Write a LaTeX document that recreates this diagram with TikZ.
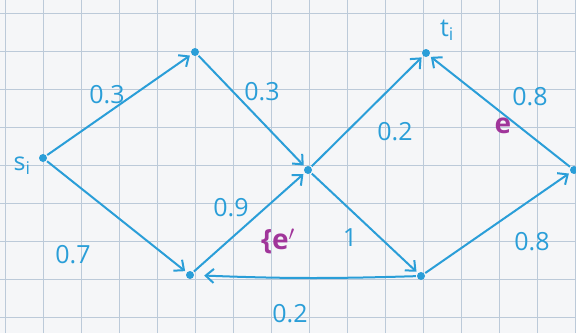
\documentclass[tikz,border=0pt]{standalone}
\usepackage{fontspec}
\setmainfont{Open Sans}
\usetikzlibrary{arrows.meta}
\definecolor{pen}{HTML}{2A9ED8}
\definecolor{ink}{HTML}{A0359A}
\definecolor{paper}{HTML}{F5F6F8}
\definecolor{gridc}{HTML}{BCCAD9}
\begin{document}
\begin{tikzpicture}[x=1pt,y=1pt,
  dot/.style={circle,fill=pen,inner sep=0pt,minimum size=8pt},
  edge/.style={draw=pen,line width=2pt,-{Straight Barb[length=8pt,width=14pt,line width=2pt]},shorten >=2pt,shorten <=1pt},
  lab/.style={text=pen,font=\fontsize{25}{28}\selectfont,inner sep=1pt},
  plab/.style={text=ink,font=\fontsize{28}{30}\selectfont\bfseries,inner sep=1pt}]
\fill[paper] (0,0) rectangle (576,333);
\useasboundingbox (0,0) rectangle (576,333);
\foreach \x in {5,43,...,576} \draw[gridc,line width=0.9pt] (\x,0) -- (\x,333);
\foreach \y in {16,54,...,333} \draw[gridc,line width=0.9pt] (0,\y) -- (576,\y);
\node[dot] (s) at (43,175) {};
\node[dot] (a) at (195,281) {};
\node[dot] (b) at (190,58) {};
\node[dot] (c) at (308,163) {};
\node[dot] (d) at (421,57) {};
\node[dot] (t) at (426,280) {};
\node[dot] (e) at (574,163) {};
\draw[edge] (s) -- (a);
\draw[edge] (s) -- (b);
\draw[edge] (a) -- (c);
\draw[edge] (b) -- (c);
\draw[edge] (c) -- (t);
\draw[edge] (c) -- (d);
\draw[edge,shorten >=10pt] (d) to[bend left=2] (b);
\draw[edge] (d) -- (e);
\draw[edge] (e) -- (t);
\node[lab] (ls) at (22,167) {s$_{\mathrm{i}}$};
\node[lab] (lt) at (447,303) {t$_{\mathrm{i}}$};
\node[lab] (l1) at (107,238) {0.3};
\node[lab] (l2) at (262,241) {0.3};
\node[lab] (l3) at (73,78) {0.7};
\node[lab] (l4) at (231,125) {0.9};
\node[lab] (l5) at (350,95) {1};
\node[lab] (l6) at (290,19) {0.2};
\node[lab] (l7) at (395,201) {0.2};
\node[lab] (l8) at (530,236) {0.8};
\node[lab] (l9) at (532,91) {0.8};
\node[plab] (pe) at (503,207) {e};
\node[plab] (pe2) at (278,92) {\{e$'$};
\end{tikzpicture}
\end{document}
